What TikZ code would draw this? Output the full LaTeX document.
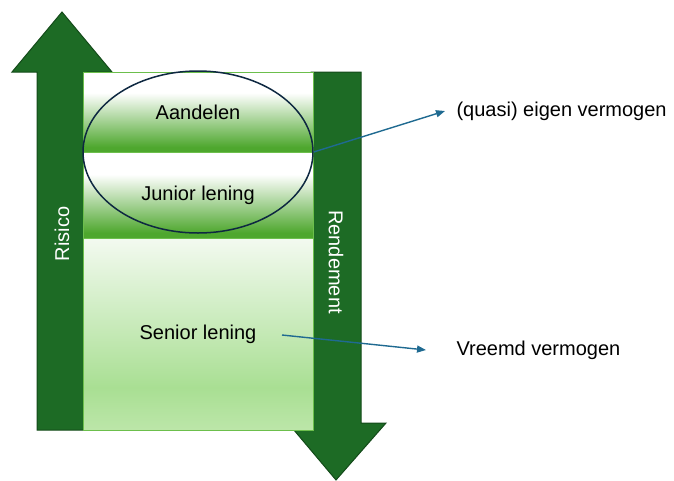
\documentclass[tikz,border=0pt]{standalone}
\usepackage{fontspec}
\setmainfont{Liberation Sans}
\usetikzlibrary{arrows.meta,shapes.geometric}
\definecolor{darkgr}{HTML}{1D6B25}
\definecolor{edgegr}{HTML}{134A19}
\definecolor{midgr}{HTML}{4EA72E}
\definecolor{rimgr}{HTML}{6CBF4C}
\definecolor{paletop}{HTML}{F3FAF0}
\definecolor{palemid}{HTML}{A9DF93}
\definecolor{palelow}{HTML}{BCE6A9}
\definecolor{navy}{HTML}{0E2841}
\definecolor{teal}{HTML}{1F6A91}
\pgfdeclareverticalshading{layershade}{100bp}{color(0bp)=(midgr); color(28bp)=(midgr); color(62bp)=(white); color(100bp)=(white)}
\pgfdeclareverticalshading{seniorshade}{100bp}{color(0bp)=(palelow); color(25bp)=(palelow); color(36bp)=(palemid); color(75bp)=(paletop); color(100bp)=(paletop)}
\tikzstyle{bigarrow}=[fill=darkgr, draw=edgegr, line width=1pt, line join=miter]
\tikzstyle{layer}=[rectangle, shading=layershade, draw=rimgr, line width=1pt, inner sep=0pt, minimum width=230, minimum height=80]
\tikzstyle{link}=[draw=teal, line width=1.4pt, -{Triangle[length=9pt,width=7pt]}]
\tikzstyle{side}=[text=white]
\newcommand{\layer}{\node[layer]}

\begin{document}
\begin{tikzpicture}[x=1pt, y=-1pt, font=\fontsize{20}{24}\selectfont]
\useasboundingbox (0,0) rectangle (674,480);
% the two big arrows
\draw[bigarrow] (37,430) -- (37,72) -- (12,72) -- (62,12) -- (112,72) -- (87,72) -- (87,430) -- cycle;
\draw[bigarrow] (311,72) -- (361,72) -- (361,423) -- (386,423) -- (336,480) -- (288,423) -- (311,423) -- cycle;
\node[side, rotate=90] (ri) at (62,234) {Risico};
\node[side, rotate=-90] (re) at (336,262) {Rendement};
% layers
\layer (aa) at (198,112) {Aandelen};
\layer[minimum height=86] (jl) at (198,195) {Junior lening};
\layer[shading=seniorshade, minimum height=192] (sl) at (198,334) {Senior lening};
\node[ellipse, draw=navy, line width=1.5pt, minimum width=230, minimum height=162, inner sep=0pt] (ev) at (198,152) {};
% labels and links
\node[anchor=west] (q) at (453,111) {(quasi) eigen vermogen};
\node[anchor=west] (v) at (453,350) {Vreemd vermogen};
\coordinate (s) at (282,335);
\draw[link] (ev.east) -- ([xshift=-8]q.west);
\draw[link] (s) -- ([xshift=-27]v.west);
\end{tikzpicture}
\end{document}
